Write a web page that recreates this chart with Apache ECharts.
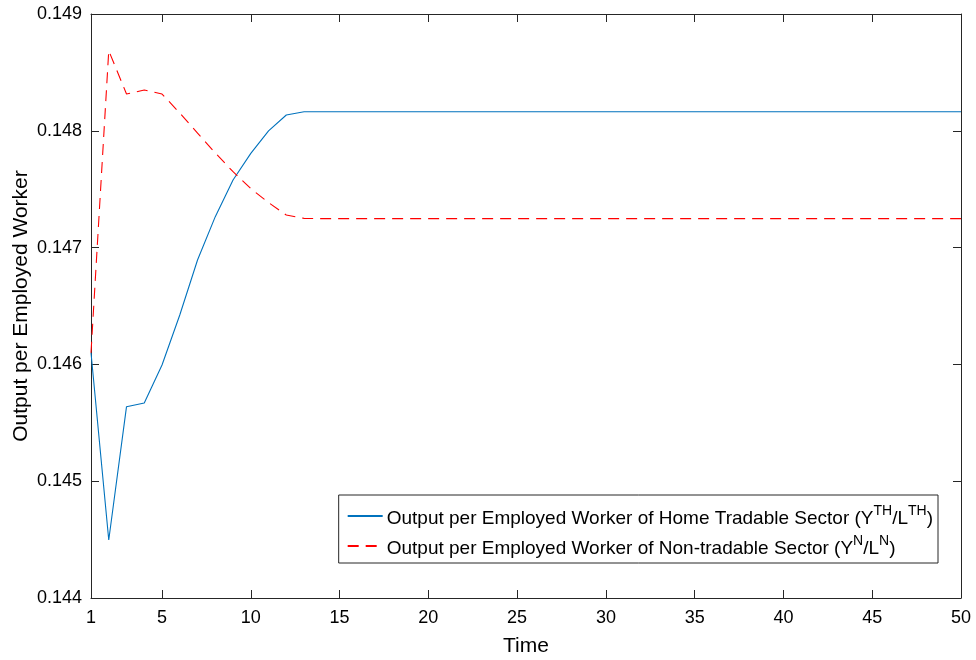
<!DOCTYPE html>
<html>
<head>
<meta charset="utf-8">
<script src="https://cdn.jsdelivr.net/npm/echarts@6/dist/echarts.min.js"></script>
<style>html,body{margin:0;padding:0;background:#fff}#c{width:976px;height:660px}</style>
</head>
<body>
<div id="c"></div>
<script>
const time = [1,2,3,4,5,6,7,8,9,10,11,12,13,14,15,16,17,18,19,20,21,22,23,24,25,26,27,28,29,30,31,32,33,34,35,36,37,38,39,40,41,42,43,44,45,46,47,48,49,50];
const tradable = [0.14610,0.144497,0.145638,0.145670,0.145995,0.146423,0.146894,0.147265,0.147579,0.147807,0.148000,0.148135,0.148163,
  0.148163,0.148163,0.148163,0.148163,0.148163,0.148163,0.148163,0.148163,0.148163,0.148163,0.148163,0.148163,0.148163,0.148163,0.148163,0.148163,0.148163,0.148163,0.148163,0.148163,0.148163,0.148163,0.148163,0.148163,0.148163,0.148163,0.148163,0.148163,0.148163,0.148163,0.148163,0.148163,0.148163,0.148163,0.148163,0.148163,0.148163];
const nontradable = [0.14610,0.148686,0.148315,0.148349,0.148315,0.148152,0.147981,0.147810,0.147650,0.147505,0.147385,0.147279,0.147250,
  0.147248,0.147248,0.147248,0.147248,0.147248,0.147248,0.147248,0.147248,0.147248,0.147248,0.147248,0.147248,0.147248,0.147248,0.147248,0.147248,0.147248,0.147248,0.147248,0.147248,0.147248,0.147248,0.147248,0.147248,0.147248,0.147248,0.147248,0.147248,0.147248,0.147248,0.147248,0.147248,0.147248,0.147248,0.147248,0.147248,0.147248];
const xTicks = [1,5,10,15,20,25,30,35,40,45,50];
const seriesNames = ['tradable','nontradable'];

const chart = echarts.init(document.getElementById('c'), null, {renderer:'canvas'});
const axisCol = '#262626';
const font = 'Liberation Sans, Arial, Helvetica, sans-serif';
function xAxisCfg(pos, show){
  return {
    type:'value', position:pos, min:1, max:50,
    axisLine:{show:true, onZero:false, lineStyle:{color:axisCol, width:1}},
    axisTick:{show:true, inside:true, length:8, customValues:xTicks, lineStyle:{color:axisCol}},
    axisLabel:{show:show, customValues:xTicks, color:'#000', fontSize:18, fontFamily:font, margin:11},
    splitLine:{show:false},
    name: show ? 'Time' : '', nameLocation:'middle', nameGap:38, nameMoveOverlap:false,
    nameTextStyle:{color:'#000', fontSize:21, fontFamily:font}
  };
}
function yAxisCfg(pos, show){
  return {
    type:'value', position:pos, min:0.144, max:0.149, interval:0.001,
    axisLine:{show:true, onZero:false, lineStyle:{color:axisCol, width:1}},
    axisTick:{show:true, inside:true, length:8, lineStyle:{color:axisCol}},
    axisLabel:{show:show, color:'#000', fontSize:18, fontFamily:font, margin:9,
      formatter:v=>v.toFixed(3)},
    splitLine:{show:false},
    name: show ? 'Output per Employed Worker' : '', nameLocation:'middle', nameGap:59, nameMoveOverlap:false,
    nameTextStyle:{color:'#000', fontSize:21, fontFamily:font}
  };
}
const richSt = {
  b:{fontSize:19, fontFamily:font, color:'#000', verticalAlign:'bottom', lineHeight:24},
  s:{fontSize:14, fontFamily:font, color:'#000', verticalAlign:'top', lineHeight:24, padding:[0,0,8,0]}
};
chart.setOption({
  animation:false,
  backgroundColor:'#fff',
  grid:{left:91, right:15, top:14, bottom:62, containLabel:false, outerBoundsMode:'none'},
  xAxis:[xAxisCfg('bottom', true), xAxisCfg('top', false)],
  yAxis:[yAxisCfg('left', true), yAxisCfg('right', false)],
  legend:{
    orient:'vertical', right:38, bottom:97,
    backgroundColor:'#fff', borderColor:axisCol, borderWidth:1,
    padding:[9,5,5,8], itemGap:6, itemWidth:35, itemHeight:14,
    itemStyle:{opacity:0},
    data:seriesNames,
    formatter:function(n){
      if(n==='tradable') return '{b|Output per Employed Worker of Home Tradable Sector (Y}{s|TH}{b|/L}{s|TH}{b|)}';
      return '{b|Output per Employed Worker of Non-tradable Sector (Y}{s|N}{b|/L}{s|N}{b|)}';
    },
    textStyle:{rich:richSt, fontFamily:font, fontSize:19, padding:[0,0,0,-1]}
  },
  series:[
    {name:'tradable', type:'line', xAxisIndex:0, yAxisIndex:0, symbol:'none',
     data: time.map((t,i)=>[t, tradable[i]]),
     lineStyle:{color:'#0072BD', width:1.1}, itemStyle:{color:'#0072BD'}},
    {name:'nontradable', type:'line', xAxisIndex:0, yAxisIndex:0, symbol:'none',
     data: time.map((t,i)=>[t, nontradable[i]]),
     lineStyle:{color:'#FF0000', width:1.1, type:[11,7]}, itemStyle:{color:'#FF0000'}}
  ]
});
</script>
</body>
</html>
